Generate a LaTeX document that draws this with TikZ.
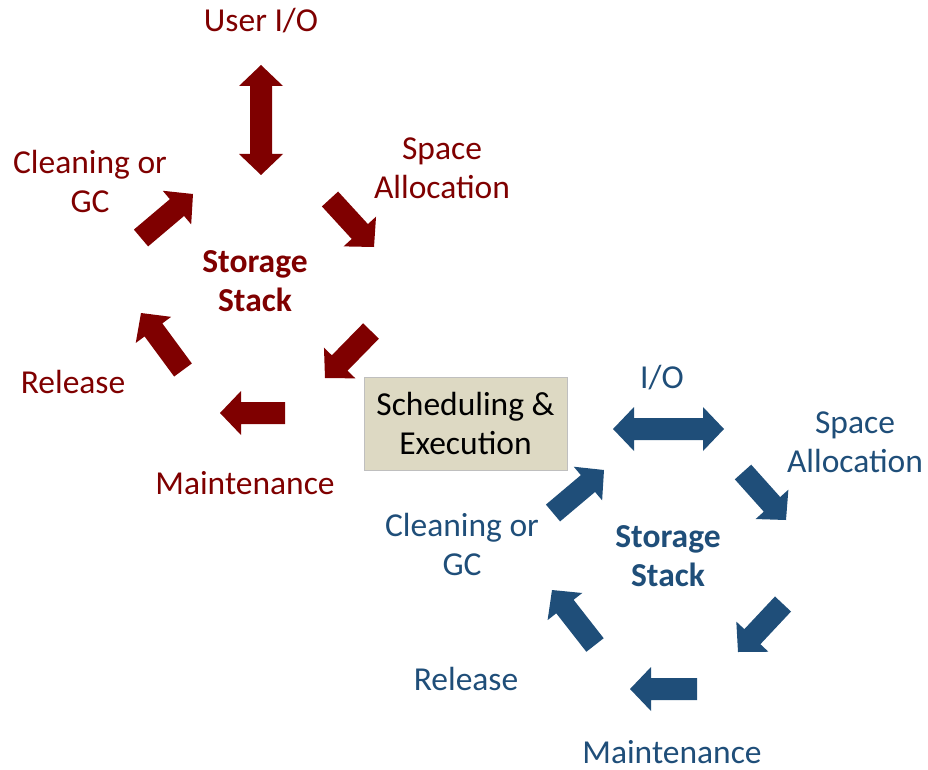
\documentclass[tikz,border=0pt]{standalone}
\usepackage{fontspec}
\setmainfont{Carlito}
\usetikzlibrary{calc}

\definecolor{stackred}{HTML}{7F0000}
\definecolor{stackblue}{HTML}{1F4E79}
\definecolor{boxfill}{HTML}{DDD9C3}
\definecolor{boxline}{HTML}{BFBFBF}

% half shaft width, half head width, head length
\newcommand\shaftw{11pt}
\newcommand\headw{22pt}
\newcommand\headl{21pt}

% single block arrow from named tail to named tip
\newcommand\blockarrow[3]{%
  \coordinate (neck) at ($(#2)!\headl!(#1)$);
  \fill[#3] ($(#1)!\shaftw!90:(#2)$) -- ($(neck)!\shaftw!90:(#2)$)
    -- ($(neck)!\headw!90:(#2)$) -- (#2) -- ($(neck)!\headw!-90:(#2)$)
    -- ($(neck)!\shaftw!-90:(#2)$) -- ($(#1)!\shaftw!-90:(#2)$) -- cycle;
}
% double block arrow between two named tips
\newcommand\doublearrow[3]{%
  \coordinate (neckA) at ($(#1)!\headl!(#2)$);
  \coordinate (neckB) at ($(#2)!\headl!(#1)$);
  \fill[#3] (#1) -- ($(neckA)!\headw!90:(#2)$) -- ($(neckA)!\shaftw!90:(#2)$)
    -- ($(neckB)!\shaftw!90:(#2)$) -- ($(neckB)!\headw!90:(#2)$) -- (#2)
    -- ($(neckB)!\headw!-90:(#2)$) -- ($(neckB)!\shaftw!-90:(#2)$)
    -- ($(neckA)!\shaftw!-90:(#2)$) -- ($(neckA)!\headw!-90:(#2)$) -- cycle;
}

\begin{document}
\begin{tikzpicture}[x=1pt,y=-1pt,
  lbl/.style={inner sep=0pt, align=center, font=\fontsize{33.5}{39}\selectfont},
  redlbl/.style={lbl, text=stackred},
  bluelbl/.style={lbl, text=stackblue},
  hub/.style={lbl, font=\fontsize{33.5}{39}\selectfont\bfseries},
  schedbox/.style={draw=boxline, fill=boxfill, line width=0.8pt, minimum width=203pt,
    minimum height=93pt, inner sep=0pt, align=center, font=\fontsize{33.5}{39}\selectfont}]
\useasboundingbox (0,0) rectangle (928,770);

% ---------- upper (red) storage stack ----------
\node[hub, text=stackred] (rhub) at (255,281) {Storage\\Stack};
\node[redlbl] (ruio) at (261,21) {User I/O};
\node[redlbl] (rspace) at (442,168) {Space\\Allocation};
\node[redlbl] (rclean) at (90,181) {Cleaning or\\GC};
\node[redlbl] (rrel) at (73,382) {Release};
\node[redlbl] (rmaint) at (245,483) {Maintenance};

\coordinate (ruA) at (261,65);
\coordinate (ruB) at (261,175);
\doublearrow{ruA}{ruB}{stackred}

\coordinate (rs1) at (330,199);  \coordinate (rs2) at (374,247);
\blockarrow{rs1}{rs2}{stackred}
\coordinate (rd1) at (371,331);  \coordinate (rd2) at (325,378);
\blockarrow{rd1}{rd2}{stackred}
\coordinate (rm1) at (285,413);  \coordinate (rm2) at (220,413);
\blockarrow{rm1}{rm2}{stackred}
\coordinate (rr1) at (183,370);  \coordinate (rr2) at (141,313);
\blockarrow{rr1}{rr2}{stackred}
\coordinate (rc1) at (141,238);  \coordinate (rc2) at (193,194);
\blockarrow{rc1}{rc2}{stackred}

% ---------- scheduling box ----------
\node[schedbox] (sched) at (465.5,423.5) {Scheduling \&\\Execution};

% ---------- lower (blue) storage stack ----------
\node[hub, text=stackblue] (bhub) at (668,556) {Storage\\Stack};
\node[bluelbl] (bio) at (662,378) {I/O};
\node[bluelbl] (bspace) at (855,442) {Space\\Allocation};
\node[bluelbl] (bclean) at (462,544) {Cleaning or\\GC};
\node[bluelbl] (brel) at (466,679) {Release};
\node[bluelbl] (bmaint) at (672,752) {Maintenance};

\coordinate (biA) at (613,429);
\coordinate (biB) at (724,429);
\doublearrow{biA}{biB}{stackblue}

\coordinate (bs1) at (743,472);  \coordinate (bs2) at (786,520);
\blockarrow{bs1}{bs2}{stackblue}
\coordinate (bd1) at (783,604);  \coordinate (bd2) at (738,652);
\blockarrow{bd1}{bd2}{stackblue}
\coordinate (bm1) at (697,689);  \coordinate (bm2) at (630,689);
\blockarrow{bm1}{bm2}{stackblue}
\coordinate (br1) at (595,645);  \coordinate (br2) at (552,590);
\blockarrow{br1}{br2}{stackblue}
\coordinate (bc1) at (553,513);  \coordinate (bc2) at (604,470);
\blockarrow{bc1}{bc2}{stackblue}
\end{tikzpicture}
\end{document}
